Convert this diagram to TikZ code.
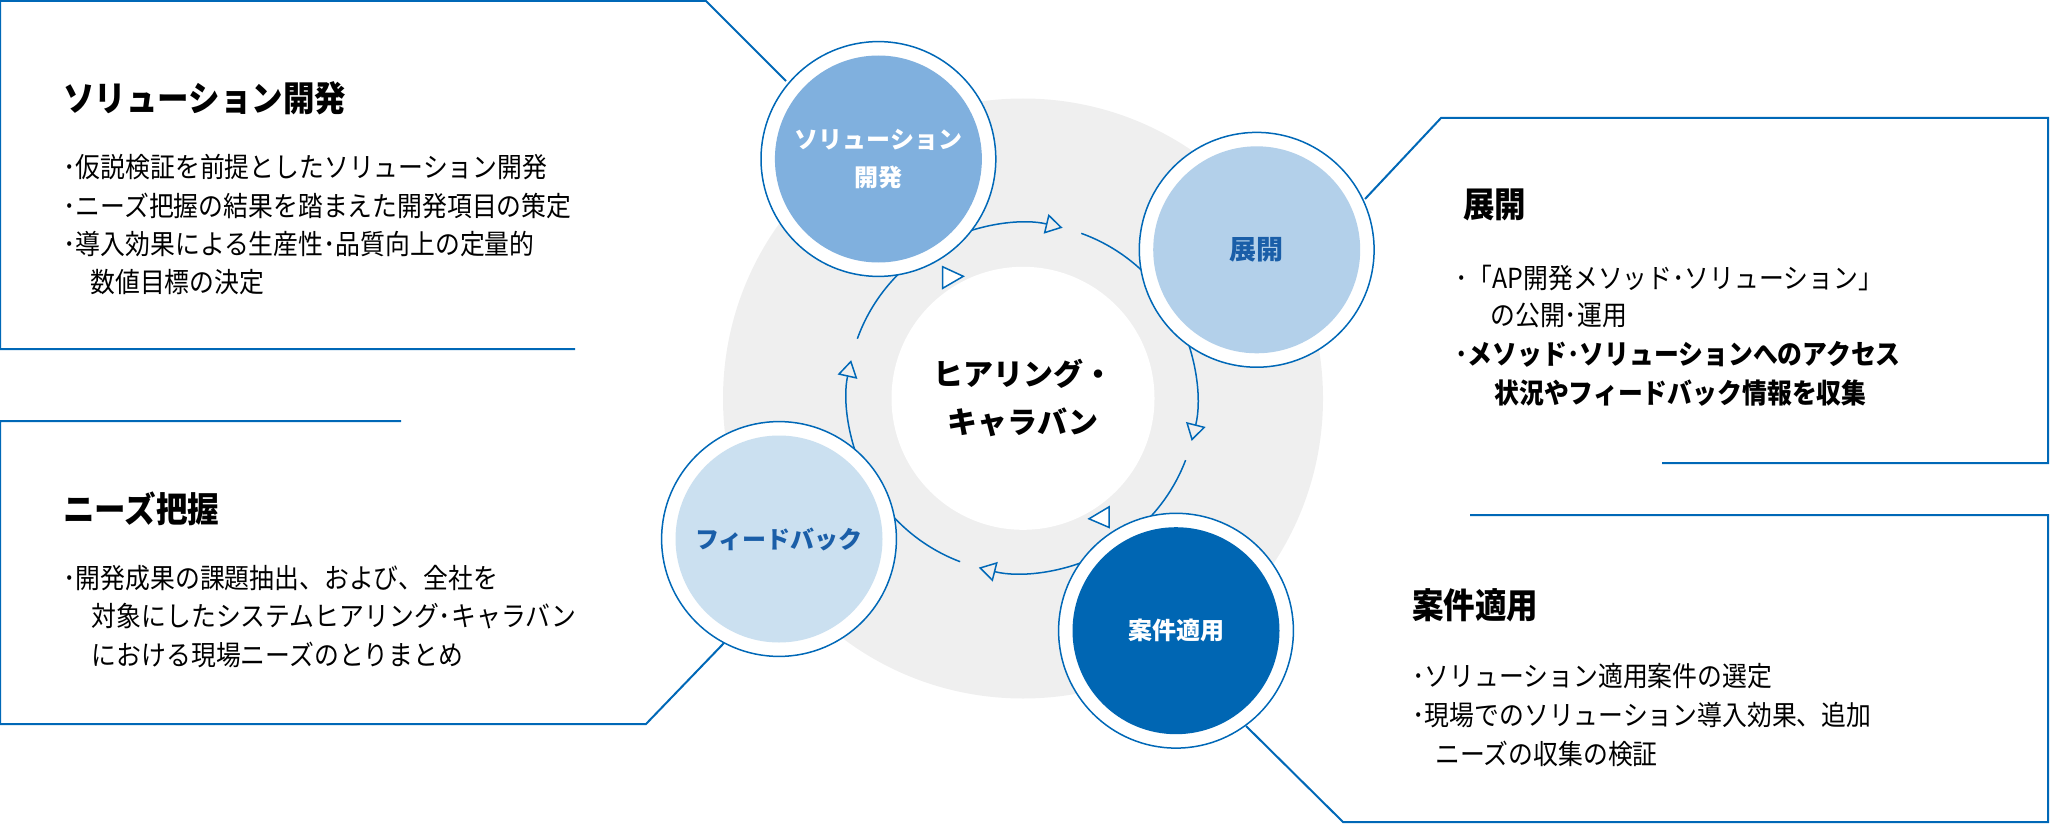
\documentclass[tikz,border=0pt]{standalone}
\usepackage{fontspec}
\setmainfont{Noto Sans CJK JP}
\newfontfamily\jpn[FakeStretch=0.9]{Noto Sans CJK JP}
\usetikzlibrary{arrows.meta,calc}
\definecolor{bl}{HTML}{0068B7}
\definecolor{gr}{HTML}{EFEFEF}
\definecolor{cA}{HTML}{80B0DE}
\definecolor{cB}{HTML}{B3D0EA}
\definecolor{cC}{HTML}{CBE0F0}
\definecolor{cD}{HTML}{0066B3}
\definecolor{tb}{HTML}{1A5EA8}
\tikzset{
  boxline/.style={draw=bl,line width=1pt},
  ring/.style={draw=bl,line width=0.75pt},
  ringarrow/.style={ring,-{Triangle[open,length=8.5pt,width=10pt]}},
  tri/.style={draw=bl,line width=0.75pt,fill=white,line join=miter},
  outer/.style={circle,draw=bl,line width=0.75pt,fill=white,minimum size=117.4pt,inner sep=0pt},
  inner/.style={circle,minimum size=103.5pt,inner sep=0pt,align=center,font=\bfseries\fontsize{12pt}{19pt}\selectfont},
  ttl/.style={anchor=west,inner sep=0pt,font=\jpn\bfseries\fontsize{17.5pt}{20pt}\selectfont},
  body/.style={anchor=west,inner sep=0pt,font=\jpn\fontsize{13.8pt}{16pt}\selectfont},
  bodyb/.style={body,font=\jpn\bfseries\fontsize{13.8pt}{16pt}\selectfont},
}
\begin{document}
\begin{tikzpicture}[x=0.5pt,y=0.5pt]
\useasboundingbox (0,0) rectangle (2050,-824);
% background circles
\fill[gr] (1023,-398.5) circle[radius=300];
\fill[white] (1023,-398.3) circle[radius=131.5];
\node[inner sep=0pt,align=center,font=\bfseries\fontsize{15pt}{24pt}\selectfont] (hub) at (1023,-398) {ヒアリング・\\キャラバン};
\coordinate (C) at (1022,-398);
% boxes
\draw[boxline] (575,-349) -- (0,-349) -- (0,-1) -- (706,-1) -- (786,-81);
\draw[boxline] (401,-421) -- (0,-421) -- (0,-724) -- (646,-724) -- (724,-643);
\draw[boxline] (1365,-199) -- (1441,-118) -- (2048,-118) -- (2048,-463) -- (1662,-463);
\draw[boxline] (1470,-515) -- (2048,-515) -- (2048,-822) -- (1343,-822) -- (1246,-726);
% ring arcs
\draw[ringarrow] ($(C)+(115:175)$) arc[start angle=115,end angle=76.6,radius=175];
\draw[ring] ($(C)+(70.2:175)$) arc[start angle=70.2,end angle=40,radius=175];
\draw[ringarrow] ($(C)+(25:175)$) arc[start angle=25,end angle=-14.2,radius=175];
\draw[ring] ($(C)+(-20.8:175)$) arc[start angle=-20.8,end angle=-50,radius=175];
\draw[ringarrow] ($(C)+(-65:175)$) arc[start angle=-65,end angle=-104.3,radius=175];
\draw[ring] ($(C)+(-110.7:175)$) arc[start angle=-110.7,end angle=-145,radius=175];
\draw[ringarrow] ($(C)+(-155:175)$) arc[start angle=-155,end angle=-192.5,radius=175];
\draw[ring] ($(C)+(160.2:175)$) arc[start angle=160.2,end angle=128,radius=175];
% circles
\node[outer] (o1) at (878.4,-159) {};
\node[inner,fill=cA,text=white] (sol) at (o1) {ソリューション\\開発};
\node[outer] (o2) at (1256.7,-249.8) {};
\node[inner,fill=cB,text=tb,font=\bfseries\fontsize{13.5pt}{16pt}\selectfont] (ten) at (o2) {展開};
\node[outer] (o3) at (779,-539) {};
\node[inner,fill=cC,text=tb] (fb) at (o3) {フィードバック};
\node[outer] (o4) at (1176,-630.7) {};
\node[inner,fill=cD,text=white] (an) at (o4) {案件適用};
% standalone triangles
\draw[tri] (942.7,-266.8) -- (942.7,-288.3) -- (963.3,-276.3) -- cycle;
\draw[tri] (1089,-518.8) -- (1109,-506.9) -- (1109,-527.4) -- cycle;
% texts box1
\node[ttl] (t1) at (63,-98) {ソリューション開発};
\node[body] (t1a) at (63,-167) {･仮説検証を前提としたソリューション開発};
\node[body] (t1b) at (63,-205.5) {･ニーズ把握の結果を踏まえた開発項目の策定};
\node[body] (t1c) at (63,-244) {･導入効果による生産性･品質向上の定量的};
\node[body] (t1d) at (90,-282.5) {数値目標の決定};
% box2
\node[ttl] (t2) at (63,-508.6) {ニーズ把握};
\node[body] (t2a) at (63,-578) {･開発成果の課題抽出、および、全社を};
\node[body] (t2b) at (91.5,-616.5) {対象にしたシステムヒアリング･キャラバン};
\node[body] (t2c) at (91.5,-655) {における現場ニーズのとりまとめ};
% box3
\node[ttl] (t3) at (1463,-205) {展開};
\node[body] (t3a) at (1455,-278.5) {･「AP開発メソッド･ソリューション」};
\node[body] (t3b) at (1490,-315) {の公開･運用};
\node[bodyb] (t3c) at (1455,-354) {･メソッド･ソリューションへのアクセス};
\node[bodyb] (t3d) at (1494,-393.5) {状況やフィードバック情報を収集};
% box4
\node[ttl] (t4) at (1412,-605) {案件適用};
\node[body] (t4a) at (1412,-676) {･ソリューション適用案件の選定};
\node[body] (t4b) at (1412,-715) {･現場でのソリューション導入効果、追加};
\node[body] (t4c) at (1435,-754) {ニーズの収集の検証};
\end{tikzpicture}
\end{document}
